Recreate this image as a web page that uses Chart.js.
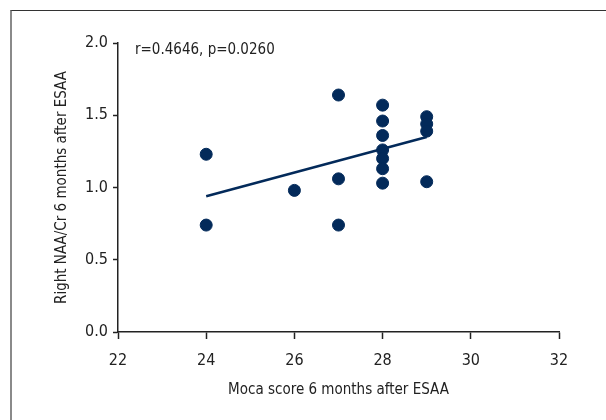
<!DOCTYPE html>
<html>
<head>
<meta charset="utf-8">
<script src="https://cdn.jsdelivr.net/npm/chart.js@4/dist/chart.umd.min.js"></script>
<style>
  html, body { margin: 0; padding: 0; background: #fff; }
  #wrap { position: relative; width: 606px; height: 420px; }
  #frame {
    position: absolute; left: 10px; top: 10px; right: 0; bottom: 0;
    border-top: 1px solid #333; border-left: 2px solid #8a8a8a;
  }
  canvas { position: absolute; left: 0; top: 0; }
</style>
</head>
<body>
<div id="wrap">
  <div id="frame"></div>
  <canvas id="chart" width="606" height="420"></canvas>
</div>
<script>
// Moca score vs right NAA/Cr, 6 months after ESAA
const mocaScores = [24, 24, 26, 27, 27, 27, 28, 28, 28, 28, 28, 28, 28, 29, 29, 29, 29];
const naaCrRatios = [1.23, 0.74, 0.98, 1.64, 1.06, 0.74, 1.57, 1.46, 1.36, 1.26, 1.20, 1.13, 1.03, 1.49, 1.44, 1.39, 1.04];
const fitX = [24, 29];
const fitY = [0.94, 1.35];
const statsLabel = 'r=0.4646, p=0.0260';
const xTitle = 'Moca score 6 months after ESAA';
const yTitle = 'Right NAA/Cr 6 months after ESAA';

const navy = '#032a5a';
const ink = '#222222';
const fontFamily = '"DejaVu Sans Condensed", "Liberation Sans", sans-serif';
const tickSize = 16;
const textSize = 15;

const statsPlugin = {
  id: 'statsText',
  afterDraw(chart) {
    const { ctx, chartArea } = chart;
    ctx.save();
    ctx.fillStyle = ink;
    ctx.font = textSize + 'px ' + fontFamily;
    ctx.textBaseline = 'middle';
    ctx.fillText(statsLabel, chartArea.left + 17, chartArea.top + 7);
    ctx.restore();
  }
};

new Chart(document.getElementById('chart'), {
  type: 'scatter',
  data: {
    datasets: [
      {
        label: 'patients',
        data: mocaScores.map((x, i) => ({ x: x, y: naaCrRatios[i] })),
        backgroundColor: navy,
        borderColor: navy,
        pointRadius: 6,
        pointHoverRadius: 6
      },
      {
        label: 'fit',
        type: 'line',
        data: fitX.map((x, i) => ({ x: x, y: fitY[i] })),
        borderColor: navy,
        borderWidth: 2.5,
        pointRadius: 0,
        fill: false
      }
    ]
  },
  options: {
    responsive: false,
    animation: false,
    layout: { padding: { top: 43, right: 47, left: 0, bottom: 0 } },
    plugins: {
      legend: { display: false },
      tooltip: { enabled: false }
    },
    scales: {
      x: {
        type: 'linear',
        min: 22,
        max: 32,
        afterFit: (scale) => { scale.height = 88; },
        border: { color: ink, width: 1.5 },
        grid: { drawOnChartArea: false, tickLength: 7, color: ink, tickWidth: 1.5 },
        ticks: {
          stepSize: 2,
          padding: 12,
          color: ink,
          font: { family: fontFamily, size: tickSize }
        },
        title: {
          display: true,
          text: xTitle,
          color: ink,
          font: { family: fontFamily, size: textSize },
          padding: { top: 0, bottom: 21 }
        }
      },
      y: {
        type: 'linear',
        min: 0,
        max: 2,
        afterFit: (scale) => { scale.width = 118; },
        border: { color: ink, width: 1.5 },
        grid: { drawOnChartArea: false, tickLength: 5, color: ink, tickWidth: 1.5 },
        ticks: {
          stepSize: 0.5,
          padding: 5,
          color: ink,
          font: { family: fontFamily, size: tickSize },
          callback: (v) => v.toFixed(1)
        },
        title: {
          display: true,
          text: yTitle,
          color: ink,
          font: { family: fontFamily, size: textSize },
          padding: { top: 53, bottom: 0 }
        }
      }
    }
  },
  plugins: [statsPlugin]
});
</script>
</body>
</html>
